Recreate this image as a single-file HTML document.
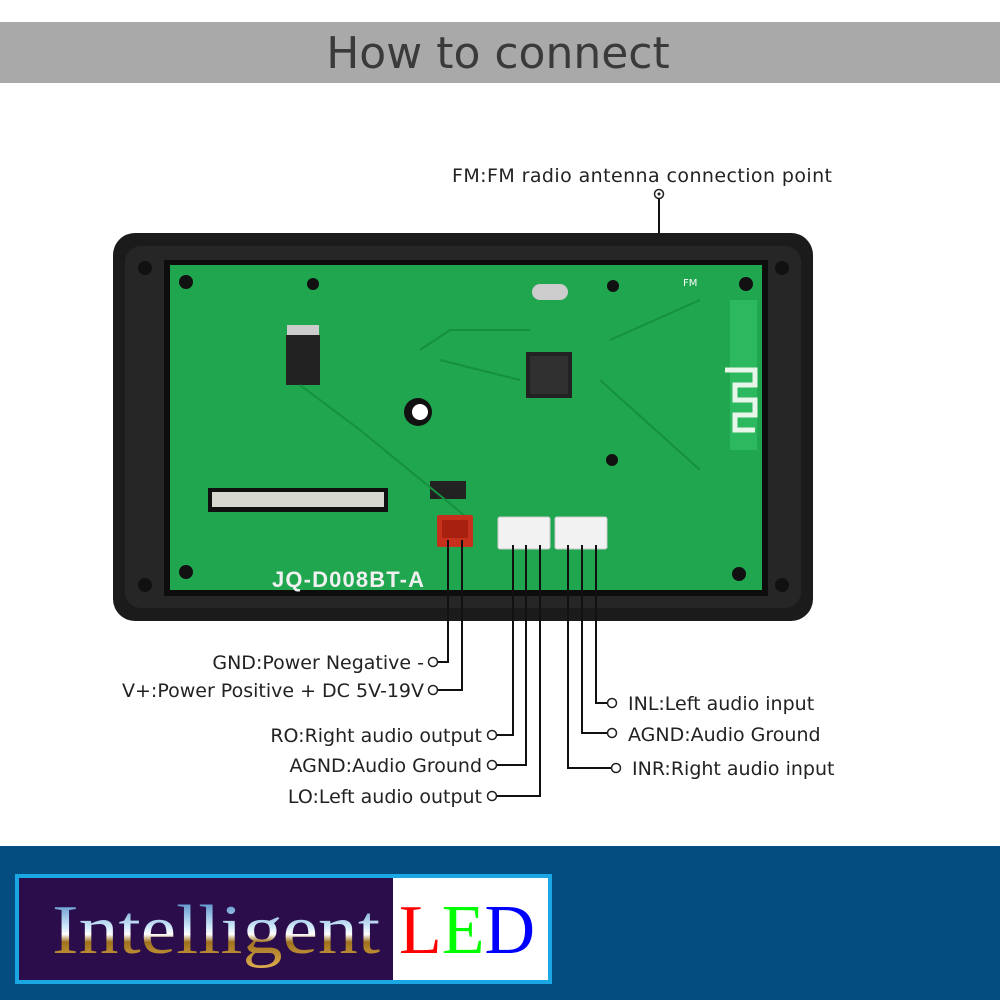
<!DOCTYPE html>
<html><head><meta charset="utf-8"><style>
html,body{margin:0;padding:0;background:#fff}
svg{display:block}
.s{font-family:"DejaVu Sans","Liberation Sans",sans-serif}
</style></head><body>
<svg width="1000" height="1000" viewBox="0 0 1000 1000" xmlns="http://www.w3.org/2000/svg">
<defs>
<linearGradient id="chrome" x1="0" y1="0" x2="0" y2="1">
<stop offset="0" stop-color="#2a6fb8"/><stop offset="0.45" stop-color="#cfe8fa"/><stop offset="0.55" stop-color="#fff"/><stop offset="0.65" stop-color="#a0721e"/><stop offset="1" stop-color="#e0b050"/>
</linearGradient>
</defs>
<rect width="1000" height="1000" fill="#fff"/>
<rect x="0" y="22" width="1000" height="61" fill="#a9a9a9"/>
<text class="s" x="498" y="68" font-size="44" fill="#3a3a3a" text-anchor="middle">How to connect</text>

<text class="s" x="452" y="182" font-size="19" fill="#222" textLength="380">FM:FM radio antenna connection point</text>
<circle cx="659" cy="194" r="4.5" fill="none" stroke="#222" stroke-width="1.5"/><circle cx="659" cy="194" r="1.5" fill="#222"/>
<line x1="659" y1="199" x2="659" y2="282" stroke="#111" stroke-width="2"/>

<rect x="113" y="233" width="700" height="388" rx="22" fill="#1b1b1b"/>
<rect x="125" y="246" width="676" height="362" rx="16" fill="#262626"/>
<rect x="164" y="260" width="604" height="336" fill="#0d0d0d"/>
<rect x="170" y="265" width="592" height="325" fill="#1fa64e"/>
<rect x="730" y="300" width="27" height="150" fill="#2bb85e"/>
<path d="M725 370 h30 v15 h-20 v15 h20 v15 h-20 v15 h20" fill="none" stroke="#e8f5ea" stroke-width="5"/>
<g fill="#111"><circle cx="145" cy="268" r="7"/><circle cx="782" cy="268" r="7"/><circle cx="145" cy="585" r="7"/><circle cx="782" cy="585" r="7"/>
<circle cx="186" cy="282" r="7"/><circle cx="746" cy="284" r="7"/><circle cx="186" cy="572" r="7"/><circle cx="739" cy="574" r="7"/>
<circle cx="613" cy="286" r="6"/><circle cx="612" cy="460" r="6"/><circle cx="313" cy="284" r="6"/></g>
<rect x="286" y="335" width="34" height="50" fill="#222"/><rect x="287" y="325" width="32" height="10" fill="#ccc"/>
<rect x="526" y="352" width="46" height="46" fill="#222"/>
<rect x="530" y="356" width="38" height="38" fill="#303030"/>
<rect x="532" y="284" width="36" height="16" rx="8" fill="#ccc"/>
<circle cx="418" cy="412" r="14" fill="#111"/><circle cx="420" cy="412" r="8" fill="#fff"/>
<rect x="208" y="488" width="180" height="24" fill="#111"/><rect x="212" y="492" width="172" height="15" fill="#d8d8d0"/>
<rect x="430" y="481" width="36" height="18" fill="#222"/>
<g fill="none" stroke="#15903f" stroke-width="2">
<path d="M300 385 L360 430 L470 520"/><path d="M440 360 L520 380"/><path d="M600 380 L700 470"/><path d="M610 340 L700 300"/><path d="M420 350 L450 330 L530 330"/>
</g>
<text x="272" y="587" font-size="22" fill="#f0f0f0" style="font-family:'Liberation Sans',sans-serif;font-weight:bold" textLength="152">JQ-D008BT-A</text>
<text class="s" x="683" y="286" font-size="10" fill="#fff">FM</text>
<rect x="437" y="515" width="36" height="32" rx="2" fill="#c8301e"/><rect x="442" y="520" width="26" height="18" fill="#a82010"/>
<rect x="498" y="517" width="52" height="32" rx="2" fill="#f2f2f2" stroke="#ccc"/>
<rect x="555" y="517" width="52" height="32" rx="2" fill="#f2f2f2" stroke="#ccc"/>

<g fill="none" stroke="#111" stroke-width="2">
<path d="M448 540 V662 H437"/><path d="M462 540 V690 H437"/>
<path d="M513 545 V735 H497"/><path d="M526 545 V765 H497"/><path d="M540 545 V796 H497"/>
<path d="M596 545 V703 H608"/><path d="M582 545 V733 H608"/><path d="M568 545 V768 H612"/>
</g>
<g fill="none" stroke="#222" stroke-width="1.5">
<circle cx="433" cy="662" r="4.5"/><circle cx="433" cy="690" r="4.5"/><circle cx="492" cy="735" r="4.5"/><circle cx="492" cy="765" r="4.5"/><circle cx="492" cy="796" r="4.5"/>
<circle cx="612" cy="703" r="4.5"/><circle cx="612" cy="733" r="4.5"/><circle cx="616" cy="768" r="4.5"/>
</g>
<g class="s" font-size="19" fill="#222">
<text x="424" y="669" text-anchor="end">GND:Power Negative -</text>
<text x="424" y="697" text-anchor="end">V+:Power Positive + DC 5V-19V</text>
<text x="482" y="742" text-anchor="end">RO:Right audio output</text>
<text x="482" y="772" text-anchor="end">AGND:Audio Ground</text>
<text x="482" y="803" text-anchor="end">LO:Left audio output</text>
<text x="628" y="710">INL:Left audio input</text>
<text x="628" y="741">AGND:Audio Ground</text>
<text x="632" y="775">INR:Right audio input</text>
</g>

<rect x="0" y="846" width="1000" height="154" fill="#034d80"/>
<rect x="15" y="874" width="537" height="110" fill="#1ba6e4"/>
<rect x="19" y="878" width="374" height="102" fill="#2a0d4a"/>
<rect x="393" y="878" width="155" height="102" fill="#fff"/>
<text x="52" y="953" font-size="70" fill="url(#chrome)" style="font-family:'Liberation Serif',serif" textLength="328" lengthAdjust="spacingAndGlyphs">Intelligent</text>
<text x="399" y="953" font-size="70" style="font-family:'Liberation Serif',serif" textLength="136" lengthAdjust="spacingAndGlyphs"><tspan fill="#f00">L</tspan><tspan fill="#0f0">E</tspan><tspan fill="#00f">D</tspan></text>
</svg>
</body></html>
